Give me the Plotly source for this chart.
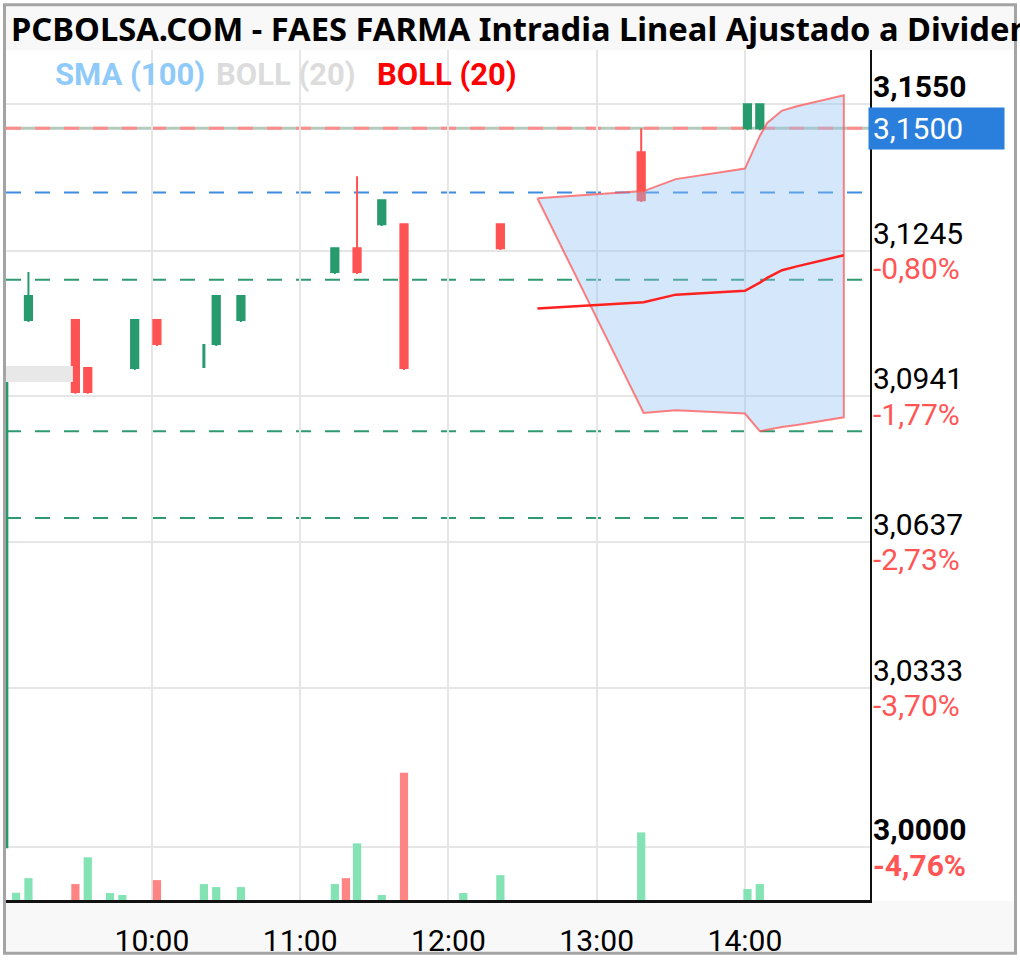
import plotly.graph_objects as go
import pandas as pd

DAY = "2024-05-06"

# ---- candles (5 min) ----
candle_time = ["09:00", "09:10", "09:29", "09:34", "09:53", "10:02", "10:26", "10:36",
               "11:14", "11:23", "11:33", "11:42", "12:21", "13:18", "14:01", "14:06"]
candle_open = [3.000, 3.110, 3.110, 3.100, 3.100, 3.110, 3.105, 3.110,
               3.120, 3.125, 3.130, 3.130, 3.130, 3.145, 3.150, 3.150]
candle_high = [3.100, 3.120, 3.110, 3.100, 3.110, 3.110, 3.115, 3.115,
               3.125, 3.140, 3.135, 3.130, 3.130, 3.150, 3.155, 3.155]
candle_low = [3.000, 3.1096, 3.0946, 3.0946, 3.0996, 3.1046, 3.1046, 3.1096,
              3.1196, 3.1196, 3.1296, 3.0996, 3.1246, 3.1346, 3.1496, 3.1496]
candle_close = [3.100, 3.115, 3.095, 3.095, 3.110, 3.105, 3.115, 3.115,
                3.125, 3.120, 3.135, 3.100, 3.125, 3.135, 3.155, 3.155]

# thin candle (no body)
thin_time = ["10:21"]
thin_high = [3.105]
thin_low = [3.100]

# ---- volume ----
vol_time = ["09:05", "09:10", "09:29", "09:34", "09:43", "09:48", "10:02", "10:21", "10:26", "10:36",
            "11:14", "11:18:30", "11:23", "11:33", "11:42", "12:06", "12:21", "13:18", "14:01", "14:06"]
vol_value = [730, 2200, 1600, 4300, 700, 500, 2000, 1600, 1300, 1300,
             1600, 2200, 5700, 500, 12800, 700, 2500, 6800, 1100, 1600]
vol_up = [True, True, False, True, True, True, False, True, True, True,
          True, False, True, True, False, True, True, True, True, True]

# ---- Bollinger (20) ----
boll_time = ["12:36", "13:19", "13:32", "14:00", "14:06", "14:09", "14:15", "14:21", "14:40"]
boll_upper = [3.1354, 3.1369, 3.1394, 3.1416, 3.1484, 3.1511, 3.1537, 3.1546, 3.1569]
boll_mid = [3.1124, 3.1137, 3.1153, 3.1161, 3.1178, 3.1188, 3.1204, 3.1212, 3.1235]
boll_lower = [3.1354, 3.0906, 3.0912, 3.0905, 3.0868, 3.0871, 3.0877, 3.0881, 3.0897]

# grey band at the open
grey_band_time = ["09:00", "09:28"]
grey_band_low = 3.0971
grey_band_high = 3.1004

# ---- horizontal levels ----
level_blue = 3.1366
levels_green = [3.1184, 3.0868, 3.0687]
prev_close = 3.1500
last_price = 3.1500

# ---- axis ----
tick_vals = [3.1550, 3.1245, 3.0941, 3.0637, 3.0333, 3.0000]
tick_text = ["3,1550", "3,1245", "3,0941", "3,0637", "3,0333", "3,0000"]
pct_text = ["+0,16%", "-0,80%", "-1,77%", "-2,73%", "-3,70%", "-4,76%"]
tick_bold = [True, False, False, False, False, True]
hour_ticks = ["10:00", "11:00", "12:00", "13:00", "14:00"]
x_range = ["09:00:55", "14:50:36"]
y_range = [2.98902, 3.16633]


def t(lst):
    return pd.to_datetime([f"{DAY} {s}" + (":00" if len(s) == 5 else "") for s in lst])


GREEN = "#279b6d"
RED = "#ff5252"
LBL = 30

fig = go.Figure()

# grey band
gb = t(grey_band_time)
fig.add_trace(go.Scatter(
    x=[gb[0], gb[1], gb[1], gb[0]],
    y=[grey_band_low, grey_band_low, grey_band_high, grey_band_high],
    fill="toself", fillcolor="#e8e8e8", mode="lines", line=dict(width=0),
    hoverinfo="skip"))

# Bollinger polygon
bt = list(t(boll_time))
fig.add_trace(go.Scatter(
    x=bt + bt[::-1], y=boll_upper + boll_lower[::-1],
    fill="toself", fillcolor="rgba(144,195,245,0.38)", mode="lines",
    line=dict(color="rgba(255,85,85,0.75)", width=2), hoverinfo="skip"))
fig.add_trace(go.Scatter(
    x=bt, y=boll_mid, mode="lines",
    line=dict(color="#ff2020", width=2.5), hoverinfo="skip"))

# candles
fig.add_trace(go.Candlestick(
    x=t(candle_time), open=candle_open, high=candle_high, low=candle_low, close=candle_close,
    increasing=dict(line=dict(color=GREEN, width=2), fillcolor=GREEN),
    decreasing=dict(line=dict(color=RED, width=2), fillcolor=RED),
    whiskerwidth=0, hoverinfo="skip"))

tt = t(thin_time)
fig.add_trace(go.Scatter(
    x=[tt[0], tt[0]], y=[thin_low[0], thin_high[0]], mode="lines",
    line=dict(color=GREEN, width=3), hoverinfo="skip"))

# volume
fig.add_trace(go.Bar(
    x=t(vol_time), y=vol_value, yaxis="y2", width=200000,
    marker=dict(color=["#84e3b4" if u else "#ff8585" for u in vol_up], line=dict(width=0)),
    hoverinfo="skip"))

# ---- helpers for paper coords of decorations ----
L, R, T, B = 6, 150, 50, 59
W, H = 1020, 964
PW, PH = W - L - R, H - T - B


def px(xp):
    return (xp - L) / PW


def py(yp):
    return (H - B - yp) / PH


shapes = []
# title bar & bottom strip backgrounds
shapes.append(dict(type="rect", xref="paper", yref="paper", x0=px(4), x1=px(1016), y0=py(50), y1=py(4),
                   fillcolor="#f8f8f8", line=dict(width=0), layer="below"))
shapes.append(dict(type="rect", xref="paper", yref="paper", x0=px(4), x1=px(1016), y0=py(958), y1=py(906),
                   fillcolor="#f8f8f8", line=dict(width=0), layer="below"))
# levels
shapes.append(dict(type="line", xref="paper", yref="y", x0=0, x1=1, y0=prev_close, y1=prev_close,
                   line=dict(color="#b4cabd", width=3), layer="between"))
shapes.append(dict(type="line", xref="paper", yref="y", x0=0, x1=1, y0=prev_close, y1=prev_close,
                   line=dict(color="#ff8c8c", width=3, dash="15px,14px"), layer="between"))
shapes.append(dict(type="line", xref="paper", yref="y", x0=0, x1=1, y0=level_blue, y1=level_blue,
                   line=dict(color="#3d8ce0", width=2, dash="15px,14px"), layer="between"))
for lv in levels_green:
    shapes.append(dict(type="line", xref="paper", yref="y", x0=0, x1=1, y0=lv, y1=lv,
                       line=dict(color="#2f9a70", width=2, dash="15px,14px"), layer="between"))
# outer frame
shapes.append(dict(type="rect", xref="paper", yref="paper", x0=px(4.5), x1=px(1015.5), y0=py(958.5), y1=py(4.5),
                   fillcolor="rgba(0,0,0,0)", line=dict(color="#a4a4a4", width=3), layer="above"))

annotations = []
annotations.append(dict(text="<b>PCBOLSA.COM - FAES FARMA Intradia Lineal Ajustado a Dividendos</b>",
                        xref="paper", yref="paper", x=px(9), y=py(28), xanchor="left", yanchor="middle",
                        showarrow=False, font=dict(family="Noto Sans", size=32.7, color="#000")))
for txt, col, x0 in [("SMA (100)", "#90caf9", 53), ("BOLL (20)", "#dcdcdc", 214), ("BOLL (20)", "#ff0000", 375)]:
    annotations.append(dict(text=f"<b>{txt}</b>", xref="paper", yref="paper", x=px(x0), y=py(75),
                            xanchor="left", yanchor="middle", showarrow=False,
                            font=dict(family="Roboto", size=31, color=col)))
for v, tx, pc, bold in zip(tick_vals, tick_text, pct_text, tick_bold):
    b0, b1 = ("<b>", "</b>") if bold else ("", "")
    annotations.append(dict(text=b0 + tx + b1, xref="paper", yref="y", x=1, y=v, xanchor="left",
                            yanchor="middle", xshift=2, yshift=17.5, showarrow=False, borderpad=0,
                            font=dict(family="Roboto", size=LBL, color="#000")))
    annotations.append(dict(text=b0 + pc + b1, xref="paper", yref="y", x=1, y=v, xanchor="left",
                            yanchor="middle", xshift=2, yshift=-18, showarrow=False, borderpad=0,
                            font=dict(family="Roboto", size=LBL, color=GREEN if pc.startswith("+") else "#ff5555")))
annotations.append(dict(text="3,1500", xref="paper", yref="y", x=1, y=last_price, xanchor="left",
                        yanchor="middle", xshift=-2, showarrow=False, bgcolor="#2b7fdc",
                        width=127, height=33, borderpad=4, align="left",
                        font=dict(family="Roboto", size=LBL, color="#fff")))

fig.update_layout(
    width=W, height=H, margin=dict(l=L, r=R, t=T, b=B),
    paper_bgcolor="#ffffff", plot_bgcolor="#ffffff",
    showlegend=False, hovermode=False,
    boxgap=0.25, boxgroupgap=0.22,
    shapes=shapes, annotations=annotations,
    xaxis=dict(type="date", range=list(t(x_range)), tickvals=list(t(hour_ticks)), ticktext=hour_ticks,
               showgrid=True, gridcolor="#e6e6e6", gridwidth=2, showline=True, linecolor="#111",
               linewidth=3, ticks="", tickfont=dict(family="Roboto", size=30, color="#000"),
               ticklabelstandoff=12, rangeslider=dict(visible=False), zeroline=False),
    yaxis=dict(range=y_range, tickvals=tick_vals, showticklabels=False, showgrid=True,
               gridcolor="#e6e6e6", gridwidth=2, zeroline=False, side="right",
               showline=True, linecolor="#111", linewidth=2, ticks=""),
    yaxis2=dict(range=[0, 85500], overlaying="y", visible=False, fixedrange=True),
)

fig.write_html("out.html", config={"displayModeBar": False},
               post_script="document.body.style.margin='0';")
